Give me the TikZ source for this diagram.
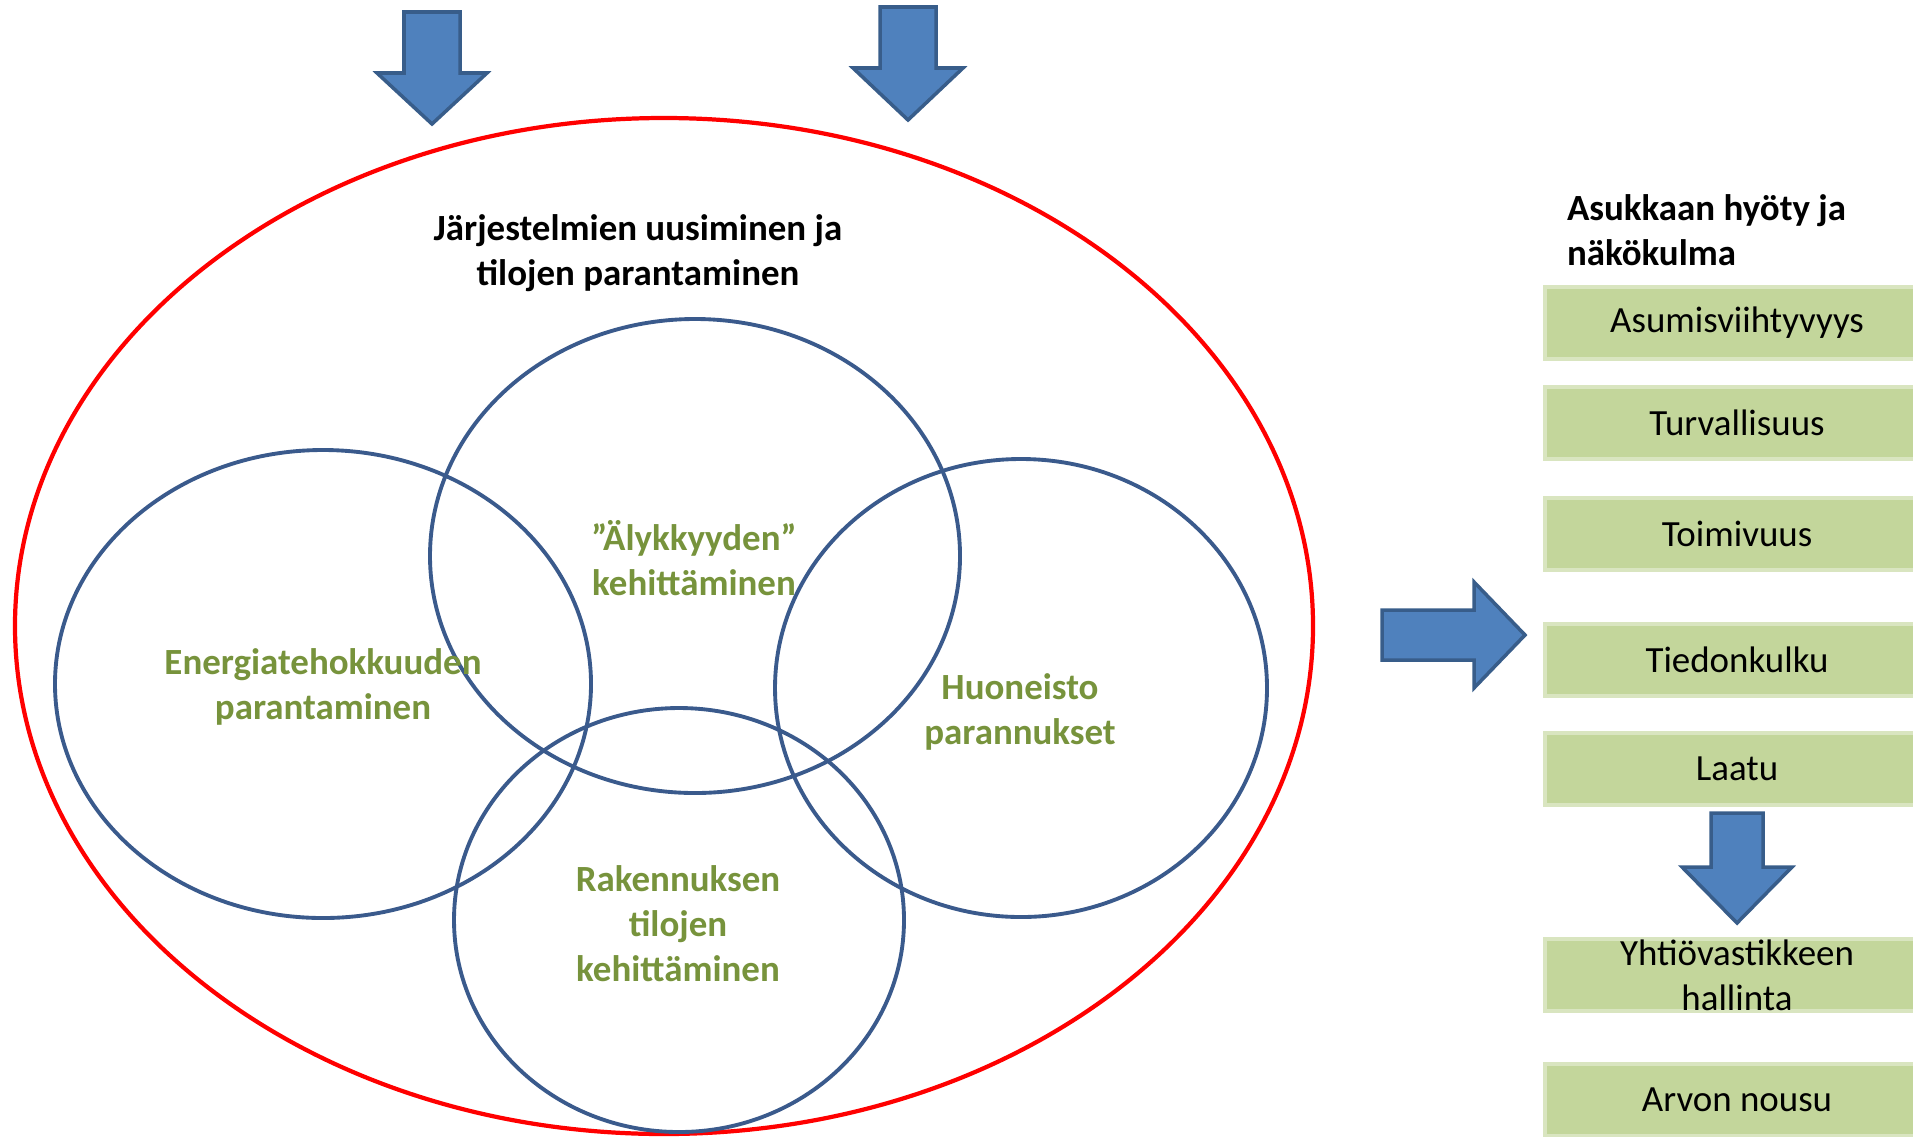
\documentclass[tikz,border=0pt]{standalone}
\usepackage{fontspec}
\setmainfont{Carlito}
\usetikzlibrary{positioning}

\definecolor{arrowblue}{HTML}{4F81BD}
\definecolor{arrowedge}{HTML}{385D8A}
\definecolor{ringblue}{HTML}{3A5A8C}
\definecolor{leafgreen}{HTML}{77933C}
\definecolor{boxgreen}{HTML}{C3D69B}
\definecolor{boxedge}{HTML}{D9E5C0}

% block arrow along +x: shaft length, tip, half shaft, half head
\newcommand{\blockarrow}[4]{%
  \filldraw[arrowbody] (0,#3) -- (#1,#3) -- (#1,#4) -- (#2,0) -- (#1,-#4) -- (#1,-#3) -- (0,-#3) -- cycle;}

\tikzset{
  arrowbody/.style={fill=arrowblue, draw=arrowedge, line width=1pt, line join=miter},
  ring/.style={draw=ringblue, line width=1.1pt},
  areatext/.style={text=leafgreen, font=\bfseries, align=center},
  benefit/.style={fill=boxgreen, draw=boxedge, line width=1.2pt, minimum width=3.84cm, minimum height=0.72cm, align=center},
}

\begin{document}
\fontsize{10.5}{12.8}\selectfont
\begin{tikzpicture}[x=0.01cm, y=0.01cm]
\useasboundingbox (0,0) rectangle (1913,-1136);
\clip (0,0) rectangle (1913,-1136);

% outer frame
\draw[red, line width=1.2pt] (664,-626) ellipse [x radius=649, y radius=508];

% the four areas
\draw[ring] (323,-684) ellipse [x radius=268, y radius=234];
\draw[ring] (695,-556) ellipse [x radius=265, y radius=237];
\draw[ring] (1021,-688) ellipse [x radius=246, y radius=229];
\draw[ring] (679,-920) ellipse [x radius=225, y radius=212];

\node[font=\bfseries, align=center] (title) at (638,-253) {Järjestelmien uusiminen ja\\tilojen parantaminen};
\node[areatext] (energy) at (323,-687) {Energiatehokkuuden\\parantaminen};
\node[areatext] (smart) at (694,-558) {”Älykkyyden”\\kehittäminen};
\node[areatext] (flat) at (1020,-712) {Huoneisto\\parannukset};
\node[areatext] (space) at (678,-924) {Rakennuksen\\tilojen\\kehittäminen};

% arrows
\begin{scope}[shift={(432,-12)}, rotate=-90] \blockarrow{61}{112}{28}{55} \end{scope}
\begin{scope}[shift={(908,-7)}, rotate=-90] \blockarrow{61}{113}{28}{55} \end{scope}
\begin{scope}[shift={(1382,-635)}] \blockarrow{92}{143}{25}{53} \end{scope}
\begin{scope}[shift={(1737,-813)}, rotate=-90] \blockarrow{54}{110}{26}{55} \end{scope}

% resident side
\node[font=\bfseries, align=left, anchor=west] (heading) at (1554,-230) {Asukkaan hyöty ja\\näkökulma};
\node[benefit] (b1) at (1737,-323) {Asumisviihtyvyys};
\node[benefit] (b2) at (1737,-423) {Turvallisuus};
\node[benefit] (b3) at (1737,-534) {Toimivuus};
\node[benefit] (b4) at (1737,-660) {Tiedonkulku};
\node[benefit] (b5) at (1737,-769) {Laatu};
\node[benefit, label={[align=center]center:Yhtiövastikkeen\\hallinta}] (b6) at (1737,-975) {};
\node[benefit] (b7) at (1737,-1100) {Arvon nousu};
\end{tikzpicture}
\end{document}
